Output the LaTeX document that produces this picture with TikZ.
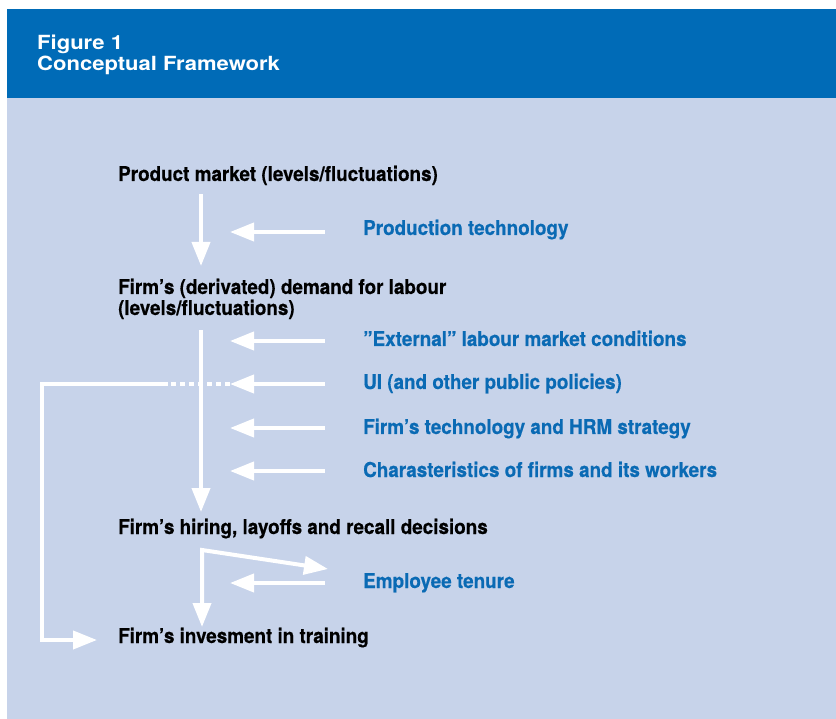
\documentclass[tikz,border=0pt]{standalone}
\usepackage{fontspec}
\setmainfont{texgyreheros}[Extension=.otf, UprightFont=*-regular, BoldFont=*-bold, FakeStretch=0.92, BoldFeatures={FakeBold=0.4}]
\newfontfamily\headfont{texgyreheros}[Extension=.otf, UprightFont=*-bold, FakeStretch=1.13]
\usetikzlibrary{arrows.meta}
\definecolor{headblue}{HTML}{006BB7}
\definecolor{panelblue}{HTML}{C7D3EA}
\definecolor{textblue}{HTML}{0A6AB4}
\tikzset{
  flow/.style={draw=white, line width=4pt},
  flowarrow/.style={flow, -{Triangle[length=24pt,width=18pt]}},
  stage/.style={anchor=base west, inner sep=0pt, font=\fontsize{20.5}{22}\selectfont\bfseries, text=black},
  factor/.style={anchor=base west, inner sep=0pt, font=\fontsize{20.5}{22}\selectfont\bfseries, text=textblue},
  heading/.style={anchor=base west, inner sep=0pt, font=\fontsize{19.5}{23}\headfont, text=white}
}
\begin{document}
\begin{tikzpicture}[x=1pt,y=-1pt]
  \useasboundingbox (0,0) rectangle (836,719);
  % background panels
  \fill[panelblue] (7,98) rectangle (836,719);
  \fill[headblue] (7,9) rectangle (836,98);
  \node[heading] (title1) at (37,50) {Figure 1};
  \node[heading] (title2) at (37,71) {Conceptual Framework};

  % stages of the framework
  \node[stage] (product) at (118,181) {Product market (levels/fluctuations)};
  \node[stage] (demand) at (118,294) {Firm’s (derivated) demand for labour};
  \node[stage] (demand2) at (118,315) {(levels/fluctuations)};
  \node[stage] (hiring) at (118,534) {Firm’s hiring, layoffs and recall decisions};
  \node[stage] (training) at (118,643) {Firm’s invesment in training};

  % influencing factors
  \node[factor] (tech) at (363,235) {Production technology};
  \node[factor] (external) at (363,346) {”External” labour market conditions};
  \node[factor] (ui) at (363,389) {UI (and other public policies)};
  \node[factor] (hrm) at (363,434) {Firm’s technology and HRM strategy};
  \node[factor] (chars) at (363,477) {Charasteristics of firms and its workers};
  \node[factor] (tenure) at (363,588) {Employee tenure};

  % connector end points
  \coordinate (p1) at (201,194);
  \coordinate (p2) at (201,266);
  \coordinate (d1) at (201,330);
  \coordinate (d2) at (201,512);
  \coordinate (techS) at (325,232);
  \coordinate (techE) at (230,232);
  \coordinate (extS) at (325,341);
  \coordinate (extE) at (230,341);
  \coordinate (uiS) at (325,384);
  \coordinate (uiE) at (230,384);
  \coordinate (hrmS) at (325,428);
  \coordinate (hrmE) at (230,428);
  \coordinate (chS) at (325,471);
  \coordinate (chE) at (230,471);
  \coordinate (loopA) at (168,384);
  \coordinate (loopB) at (42,384);
  \coordinate (loopC) at (42,640);
  \coordinate (loopD) at (97,640);
  \coordinate (h0) at (202,550);
  \coordinate (hT) at (328,569);
  \coordinate (hB) at (202,627);
  \coordinate (tenS) at (325,583);
  \coordinate (tenE) at (230,583);

  % main flow
  \draw[flowarrow] (p1) -- (p2);
  \draw[flowarrow] (d1) -- (d2);
  \draw[flowarrow] (techS) -- (techE);
  \draw[flowarrow] (extS) -- (extE);
  \draw[flowarrow] (uiS) -- (uiE);
  \draw[flowarrow] (hrmS) -- (hrmE);
  \draw[flowarrow] (chS) -- (chE);

  % public policy loop into training
  \draw[flow, dash pattern=on 5pt off 4pt] (uiE) -- (loopA);
  \draw[flowarrow] (loopA) -- (loopB) -- (loopC) -- (loopD);

  % hiring decisions, tenure and training
  \draw[flow, {Triangle[length=24pt,width=18pt]}-{Triangle[length=24pt,width=18pt]}] (hT) -- (h0) -- (hB);
  \draw[flowarrow] (tenS) -- (tenE);
\end{tikzpicture}
\end{document}
